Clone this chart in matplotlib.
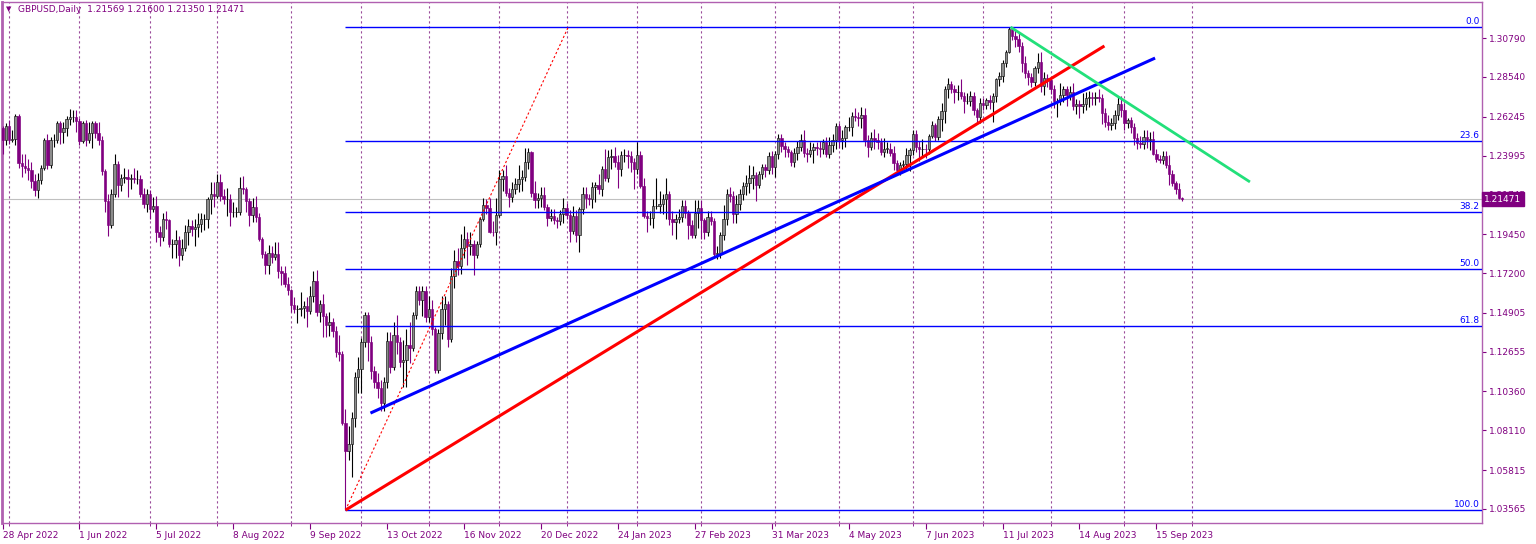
import numpy as np
import pandas as pd
import matplotlib
matplotlib.use("Agg")
import matplotlib.pyplot as plt
from matplotlib.transforms import blended_transform_factory

# GBPUSD daily bars, 28 Apr 2022 - 27 Sep 2023, prices in pips (1e-4)
first_open = 12560
closes = [
    12487, 12573,
    12490, 12494, 12630, 12355, 12340, 12330, 12315, 12250, 12200, 12260, 12330, 12490, 12345, 12490, 12490, 12590, 12535, 12560, 12610, 12620, 12625, 12600,
    12485, 12590, 12490, 12530, 12585, 12530, 12490, 12310, 12135, 12000, 12175, 12350, 12230, 12270, 12275, 12265, 12270, 12265, 12265, 12180, 12120, 12180,
    12090, 12110, 11960, 11930, 12030, 12025, 11890, 11890, 11910, 11825, 11865, 11960, 11990, 11975, 11985, 12005, 12030, 12030, 12150, 12180, 12165,
    12245, 12165, 12150, 12150, 12075, 12075, 12075, 12210, 12205, 12135, 12055, 12100, 12045, 11920, 11830, 11765, 11835, 11815, 11830, 11735, 11720, 11655, 11620,
    11535, 11510, 11515, 11520, 11530, 11500, 11585, 11675, 11495, 11540, 11470, 11420, 11435, 11385, 11265, 11255, 10855, 10690, 10735, 10885, 11120, 11165,
    11320, 11475, 11320, 11155, 11090, 11055, 10970, 11090, 11325, 11175, 11360, 11320, 11205, 11220, 11305, 11285, 11475, 11615, 11565, 11615, 11465,
    11510, 11395, 11160, 11375, 11510, 11540, 11340, 11705, 11790, 11760, 11865, 11920, 11875, 11890, 11825, 11890, 12035, 12115, 12095, 11960, 11955, 12055,
    12265, 12280, 12185, 12160, 12205, 12235, 12265, 12275, 12365, 12420, 12185, 12140, 12155, 12170, 12105, 12040, 12050, 12025, 12020, 12060, 12095,
    12055, 11965, 12050, 11940, 12090, 12180, 12155, 12150, 12215, 12230, 12205, 12320, 12270, 12390, 12395, 12365, 12320, 12405, 12405, 12395, 12365, 12320,
    12405, 12225, 12050, 12040, 12040, 12110, 12110, 12120, 12150, 12180, 12035, 12015, 12030, 12045, 12110, 12065, 12000, 11940, 12065, 12095,
    12025, 11955, 12045, 12020, 11830, 11835, 11940, 12030, 12180, 12165, 12060, 12120, 12175, 12225, 12240, 12270, 12285, 12230, 12290, 12335, 12315, 12395, 12335,
    12410, 12500, 12455, 12435, 12420, 12360, 12415, 12450, 12490, 12415, 12410, 12430, 12450, 12445, 12440, 12480, 12410, 12460, 12490, 12570,
    12490, 12500, 12565, 12565, 12630, 12625, 12615, 12635, 12490, 12450, 12500, 12490, 12480, 12420, 12440, 12440, 12415, 12355, 12315, 12345, 12350, 12405, 12430,
    12525, 12450, 12435, 12440, 12435, 12515, 12575, 12505, 12610, 12655, 12785, 12815, 12785, 12765, 12765, 12745, 12715, 12715, 12745, 12665, 12620, 12705,
    12690, 12720, 12710, 12745, 12840, 12860, 12935, 13000, 13130, 13090, 13075, 13035, 12935, 12875, 12855, 12825, 12905, 12940, 12800, 12850, 12835,
    12785, 12715, 12715, 12750, 12785, 12750, 12765, 12685, 12695, 12685, 12695, 12730, 12740, 12735, 12740, 12735, 12645, 12595, 12575, 12585, 12635, 12700, 12665,
    12585, 12605, 12565, 12500, 12470, 12465, 12505, 12490, 12495, 12410, 12380, 12375, 12395, 12345, 12295, 12240, 12205, 12156.9, 12147.1,
]
# wick lengths above / below the body, pips
upper_wick = [
    10, 12,
    32, 51, 8, 7, 55, 66, 50, 45, 40, 36, 15, 10, 35, 15, 35, 10, 10, 35, 20, 46, 40, 40,
    15, 10, 15, 65, 15, 15, 65, 20, 10, 40, 30, 56, 20, 20, 50, 45, 25, 55, 50, 20, 30, 25,
    20, 50, 55, 35, 35, 50, 10, 30, 60, 25, 50, 40, 45, 35, 50, 60, 35, 30, 10, 65, 65,
    48, 48, 40, 60, 30, 55, 30, 65, 70, 10, 20, 55, 65, 20, 10, 15, 45, 40, 70, 70, 25, 40, 45,
    10, 45, 20, 90, 30, 50, 60, 60, 65, 25, 60, 20, 60, 25, 30, 100, 15, 80, 100, 30, 30, 70,
    25, 20, 20, 35, 30, 55, 45, 30, 55, 55, 80, 120, 30, 115, 90, 135, 20, 30, 30, 30, 30,
    80, 55, 15, 20, 80, 50, 20, 45, 65, 75, 80, 70, 40, 65, 20, 15, 10, 40, 35, 60, 60, 100,
    50, 35, 65, 25, 40, 35, 80, 40, 80, 26, 5, 65, 30, 45, 45, 15, 40, 40, 20, 25, 60,
    30, 30, 60, 35, 10, 40, 40, 25, 30, 15, 60, 20, 115, 40, 40, 53, 40, 20, 30, 25, 30, 20,
    70, 20, 45, 30, 40, 40, 160, 75, 30, 90, 15, 45, 30, 45, 35, 30, 20, 25, 80, 45,
    45, 15, 35, 35, 20, 40, 20, 85, 25, 40, 30, 50, 30, 20, 45, 75, 55, 20, 20, 15, 15, 25, 30,
    15, 25, 25, 20, 20, 10, 30, 35, 35, 55, 30, 45, 20, 25, 40, 15, 25, 45, 35, 15,
    15, 45, 10, 55, 20, 45, 25, 45, 40, 30, 35, 55, 40, 20, 60, 35, 30, 40, 20, 20, 25, 40, 15,
    20, 20, 35, 55, 25, 10, 25, 15, 20, 50, 15, 35, 15, 20, 40, 75, 20, 45, 25, 20, 10, 25,
    30, 15, 30, 15, 10, 25, 15, 10, 12, 10, 35, 35, 20, 40, 20, 20, 15, 55, 60, 35, 20,
    20, 25, 20, 70, 15, 15, 35, 55, 30, 25, 65, 35, 30, 25, 25, 45, 20, 30, 40, 30, 30, 45, 45,
    40, 10, 15, 20, 30, 40, 40, 45, 40, 45, 30, 25, 30, 30, 60, 20, 15, 35, 3.1,
]
lower_wick = [
    77, 27,
    25, 15, 34, 30, 64, 30, 55, 40, 35, 45, 25, 15, 25, 20, 40, 20, 70, 65, 50, 35, 25, 65,
    25, 15, 35, 20, 85, 30, 30, 25, 60, 66, 20, 15, 70, 35, 30, 105, 60, 25, 30, 20, 25, 45,
    60, 15, 60, 55, 25, 50, 20, 85, 85, 65, 30, 20, 75, 40, 100, 55, 45, 60, 50, 90, 60,
    10, 30, 30, 100, 80, 30, 30, 20, 30, 60, 60, 40, 30, 15, 25, 50, 50, 35, 20, 45, 70, 15, 25,
    40, 20, 80, 45, 60, 90, 15, 30, 25, 60, 120, 70, 65, 35, 30, 45, 15, 340, 50, 195, 55, 95,
    140, 30, 110, 45, 35, 55, 45, 45, 35, 30, 15, 65, 25, 145, 160, 85, 15, 20, 30, 95, 30,
    30, 30, 15, 20, 35, 90, 50, 20, 70, 50, 45, 60, 110, 50, 115, 15, 20, 15, 35, 10, 20, 70,
    10, 70, 20, 55, 30, 30, 45, 70, 20, 45, 25, 45, 45, 50, 20, 50, 20, 20, 40, 20, 50,
    20, 65, 20, 40, 99, 30, 60, 35, 55, 85, 25, 40, 15, 25, 70, 30, 110, 40, 45, 70, 60, 115,
    30, 15, 10, 80, 40, 60, 20, 40, 60, 120, 35, 75, 100, 20, 30, 25, 80, 15, 15, 85,
    110, 35, 20, 20, 10, 27, 30, 30, 30, 35, 50, 50, 35, 35, 55, 55, 65, 95, 20, 25, 40, 20, 40,
    60, 30, 35, 45, 30, 20, 25, 40, 25, 25, 45, 20, 75, 40, 50, 30, 20, 25, 40, 55,
    45, 50, 50, 25, 55, 25, 45, 55, 35, 60, 20, 50, 45, 20, 30, 25, 20, 40, 15, 30, 20, 40, 95,
    30, 30, 65, 45, 50, 25, 15, 20, 15, 70, 65, 50, 25, 60, 45, 20, 70, 15, 30, 30, 30, 30,
    30, 20, 40, 115, 35, 40, 35, 25, 5, 20, 50, 35, 55, 30, 45, 30, 25, 30, 35, 50, 40,
    30, 40, 95, 25, 40, 65, 30, 25, 45, 70, 40, 30, 50, 45, 45, 25, 65, 30, 25, 30, 30, 30, 45,
    40, 25, 35, 40, 35, 20, 25, 45, 60, 10, 20, 20, 25, 20, 65, 15, 30, 10, 12.1,
]

price_ticks = [1.03565, 1.05815, 1.08110, 1.10360, 1.12655, 1.14905, 1.17200,
               1.19450, 1.21745, 1.23995, 1.26245, 1.28540, 1.30790]
fib_levels = [0.0, 23.6, 38.2, 50.0, 61.8, 100.0]
fib_start_bar = 107

# drawn objects: (bar, price) anchors
red_line = [(107, 1.0350), (343.8, 1.3033)]
red_dotted = [(107, 1.0350), (176.5, 1.3142)]
blue_line = [(114.8, 1.0911), (359.6, 1.2963)]
green_line = [(314.5, 1.3142), (389.2, 1.2247)]

# trading calendar (one holiday missing) incl. a few future days for the grid
days = pd.bdate_range("2022-04-28", "2023-12-29")
days = days[days != pd.Timestamp("2022-12-26")]

n = len(closes)
c = np.array(closes, dtype=float) / 1e4
o = np.concatenate([[first_open / 1e4], c[:-1]])
hi = np.maximum(o, c) + np.array(upper_wick) / 1e4
lo = np.minimum(o, c) - np.array(lower_wick) / 1e4
x = np.arange(n)
up = c >= o
dn = ~up

purple = "#800080"
frame = "#b060b0"

fig = plt.figure(figsize=(15.36, 5.44), dpi=100)
ax = fig.add_axes([2 / 1536, 21 / 544, 1480 / 1536, 521 / 544])
xmax = 461.6
ax.set_xlim(-0.16, xmax)
ax.set_ylim(1.02755, 1.32871)

# monthly grid (drawn up to the first month after the last bar)
month_start = [i for i in range(1, len(days))
               if days[i].month != days[i - 1].month and i < n + 10]
for m in month_start:
    ax.axvline(m, color="#9a4a9a", lw=0.8, ls=(0, (2, 2.5)), zorder=1)

# current price line
ax.axhline(c[-1], color="#c0c0c0", lw=0.8, zorder=1.5)

# candles
ax.vlines(x[up], lo[up], hi[up], color="black", lw=0.8, zorder=3)
ax.vlines(x[dn], lo[dn], hi[dn], color=purple, lw=0.8, zorder=3)
ax.bar(x[up], np.maximum(c - o, 0.00004)[up], bottom=o[up], width=0.75,
       color="#8c8c8c", edgecolor="#101010", linewidth=0.45, zorder=3.1)
ax.bar(x[dn], (o - c)[dn], bottom=c[dn], width=0.75,
       color=purple, edgecolor=purple, linewidth=0.45, zorder=3.1)

# fibonacci retracement
fib_hi = hi.max()
fib_lo = lo.min()
for lev in fib_levels:
    p = fib_hi - lev / 100 * (fib_hi - fib_lo)
    ax.hlines(p, fib_start_bar, xmax, color="#0000ff", lw=1.0, zorder=4)
    ax.text(xmax - 0.8, p + 0.0004, f"{lev:.1f}", color="#0000ff", fontsize=6.5,
            ha="right", va="bottom", zorder=6)

# trend lines
for line, col, lw, ls in [(red_dotted, "red", 0.8, (0, (2, 2))),
                          (red_line, "red", 2.2, "-"),
                          (blue_line, "#0000ff", 2.2, "-"),
                          (green_line, "#22e07a", 2.0, "-")]:
    ax.plot([line[0][0], line[1][0]], [line[0][1], line[1][1]], color=col,
            lw=lw, ls=ls, zorder=5, solid_capstyle="butt")

# axes styling
for s in ax.spines.values():
    s.set_color(frame)
    s.set_linewidth(1.0)
ax.spines["left"].set_linewidth(2.0)

ax.yaxis.tick_right()
ax.set_yticks(price_ticks)
ax.set_yticklabels([f"{p:.5f}" for p in price_ticks])
ax.tick_params(axis="y", which="both", direction="out", length=3, pad=2,
               colors=purple, labelsize=6.5)

label_pos = list(range(0, n, 24))
ax.set_xticks(label_pos)
ax.set_xticklabels([f"{days[i].day} {days[i]:%b %Y}" for i in label_pos])
ax.set_xticks(month_start, minor=True)
ax.tick_params(axis="x", which="major", direction="out", length=4, pad=2,
               colors=purple, labelsize=6.5)
ax.tick_params(axis="x", which="minor", direction="out", length=2, colors=purple)
for lab in ax.get_xticklabels():
    lab.set_horizontalalignment("left")

# header and current price box
ax.text(0.003, 0.992, "\u25bc", transform=ax.transAxes, color=purple, fontsize=5,
        ha="left", va="top")
ax.text(0.011, 0.995,
        f"GBPUSD,Daily  {o[-1]:.5f} {hi[-1]:.5f} {lo[-1]:.5f} {c[-1]:.5f}",
        transform=ax.transAxes, color=purple, fontsize=6.5, ha="left", va="top")
tr = blended_transform_factory(ax.transAxes, ax.transData)
ax.text(1.0015, c[-1], f"{c[-1]:.5f}", transform=tr, color="white", fontsize=6.5,
        ha="left", va="center", zorder=10, clip_on=False,
        bbox=dict(boxstyle="square,pad=0.25", fc=purple, ec=purple))

fig.savefig("out.png", dpi=100)
